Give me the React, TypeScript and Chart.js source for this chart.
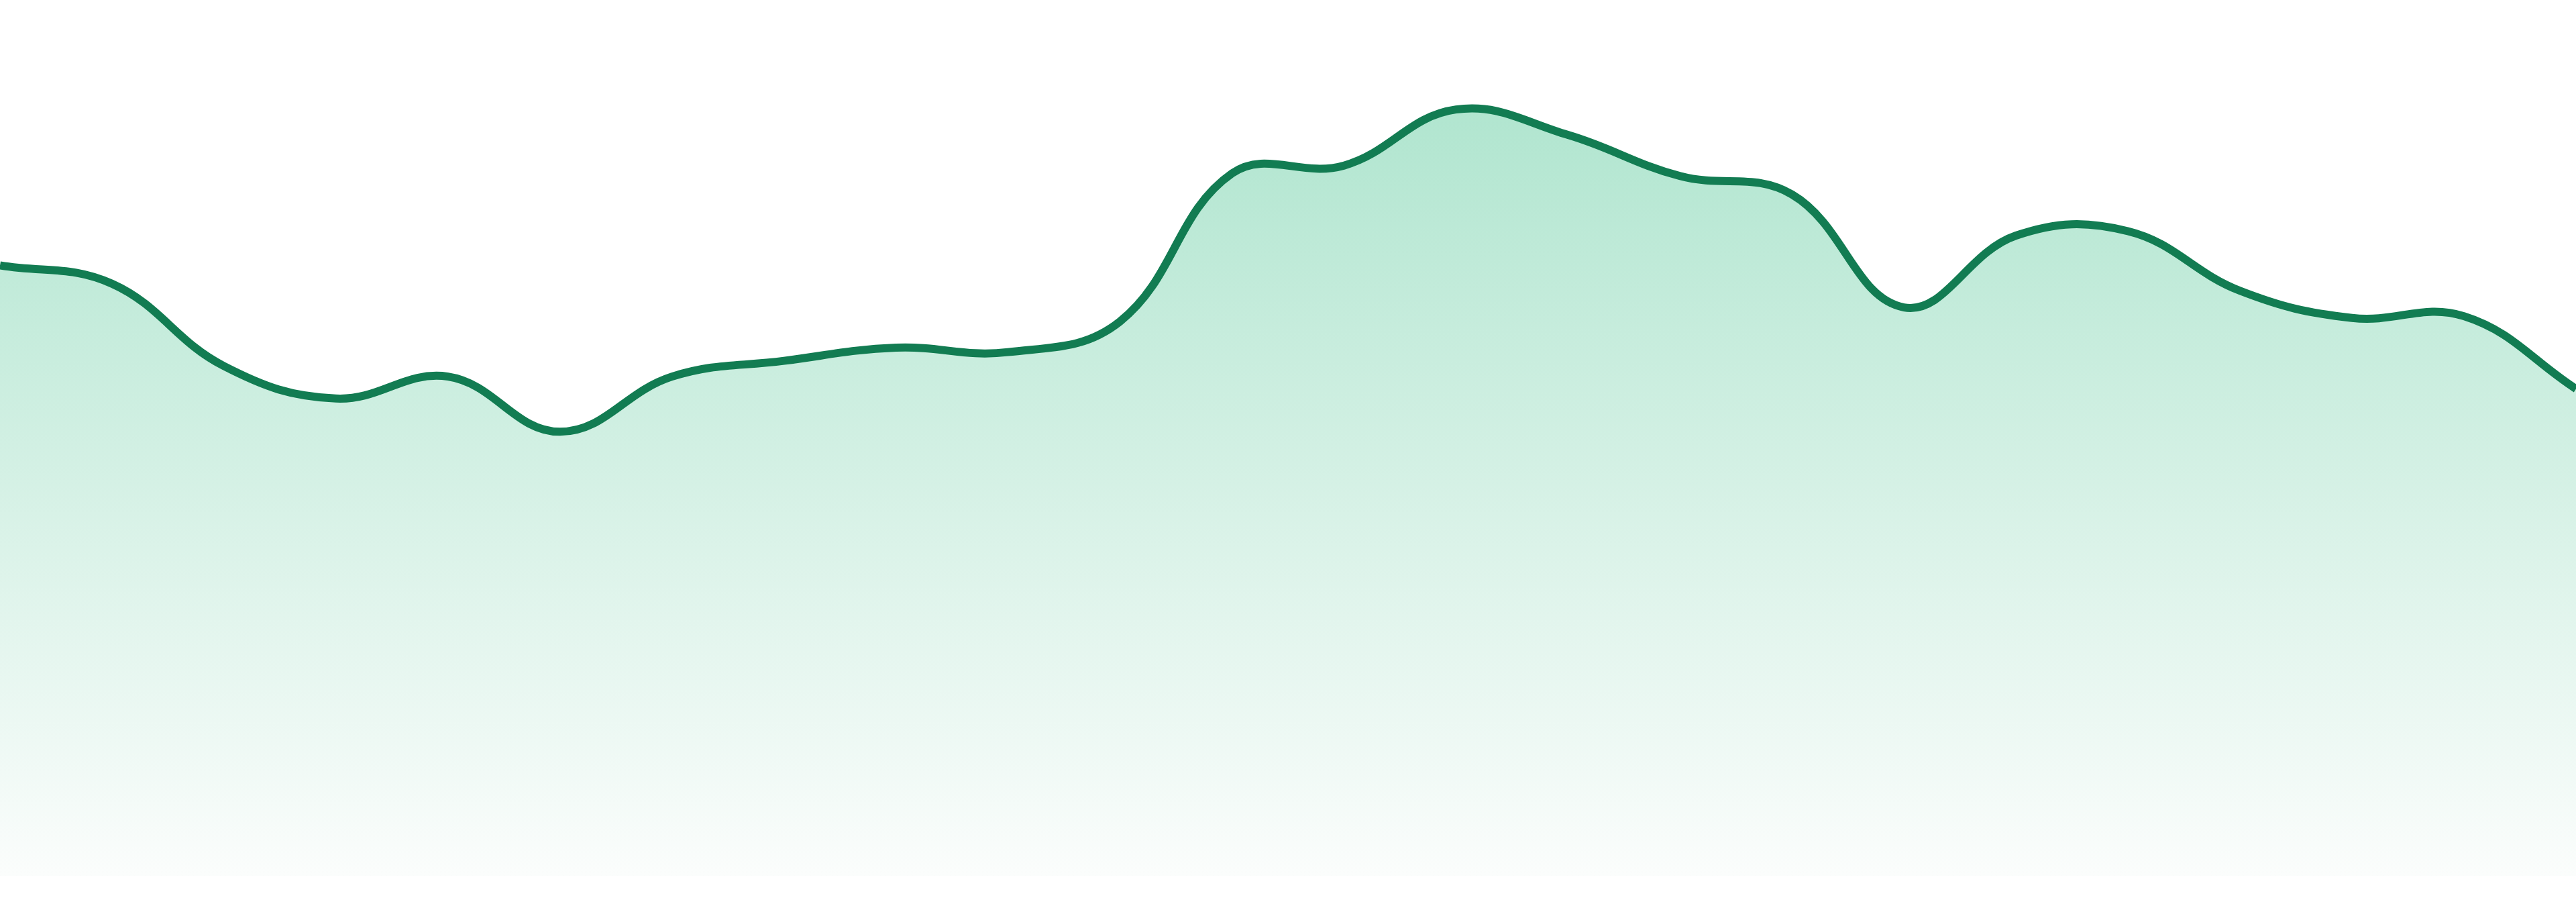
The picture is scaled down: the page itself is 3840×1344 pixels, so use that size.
import React, { useEffect, useRef } from 'react';
import { Chart, registerables, ChartConfiguration, ScriptableContext } from 'chart.js';

Chart.register(...registerables);

// 24 hourly samples (scale 0..100)
const hours: string[] = [
    '00:00', '01:00', '02:00', '03:00', '04:00', '05:00', '06:00', '07:00',
    '08:00', '09:00', '10:00', '11:00', '12:00', '13:00', '14:00', '15:00',
    '16:00', '17:00', '18:00', '19:00', '20:00', '21:00', '22:00', '23:00',
];

const values: number[] = [
    69.7, 67.6, 58.2, 54.5, 57.0, 50.7, 57.0, 58.8,
    60.3, 59.8, 63.3, 80.2, 81.1, 87.5, 84.6, 79.9,
    77.8, 64.9, 73.1, 73.6, 66.8, 63.7, 63.9, 55.6,
];

const yMin = 0;
const yMax = 100;

const lineColor = '#127c52';

// vertical fade from mint green to almost white
const areaFill = (ctx: ScriptableContext<'line'>) => {
    const { chart } = ctx;
    const area = chart.chartArea;
    if (!area) return 'rgba(166, 226, 201, 0.6)';
    const g = chart.ctx.createLinearGradient(0, area.top, 0, area.bottom);
    g.addColorStop(0, 'rgb(166, 226, 201)');
    g.addColorStop(1, 'rgb(251, 253, 252)');
    return g;
};

const chartConfig: ChartConfiguration<'line', number[], string> = {
    type: 'line',
    data: {
        labels: hours,
        datasets: [{
            label: 'Trend',
            data: values,
            borderColor: lineColor,
            borderWidth: 12,
            backgroundColor: areaFill,
            fill: 'start',
            tension: 0.4,
            pointRadius: 0,
            pointHoverRadius: 0,
        }]
    },
    options: {
        animation: false,
        responsive: true,
        maintainAspectRatio: false,
        layout: {
            padding: { left: 0, right: 0, top: 0, bottom: 39 }
        },
        plugins: {
            legend: { display: false },
            tooltip: { enabled: false },
        },
        scales: {
            x: { display: false, offset: false },
            y: { display: false, min: yMin, max: yMax },
        }
    }
};

const TrendArea: React.FC = () => {
    const chartRef = useRef<HTMLCanvasElement | null>(null);
    const chartInstanceRef = useRef<Chart | null>(null);

    useEffect(() => {
        if (chartRef.current) {
            const ctx = chartRef.current.getContext('2d');
            if (ctx) {
                if (chartInstanceRef.current) {
                    chartInstanceRef.current.destroy();
                }
                chartInstanceRef.current = new Chart(ctx, chartConfig);
            }
        }

        return () => {
            if (chartInstanceRef.current) {
                chartInstanceRef.current.destroy();
                chartInstanceRef.current = null;
            }
        };
    }, []);

    return (
        <div style={{ position: 'fixed', left: 0, top: 0, width: '100vw', height: '100vh', background: '#fff' }}>
            <canvas ref={chartRef} />
        </div>
    );
};

export default function App() {
    return <TrendArea />;
}
